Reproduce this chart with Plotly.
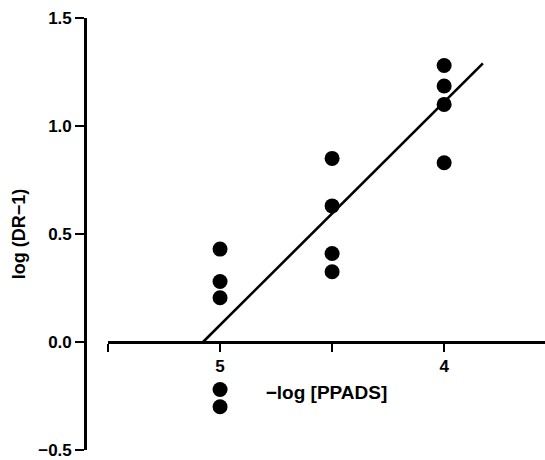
import plotly.graph_objects as go

# Data
conc = [5, 5, 5, 5, 5, 4.5, 4.5, 4.5, 4.5, 4, 4, 4, 4]
log_dr = [0.43, 0.28, 0.205, -0.22, -0.30, 0.85, 0.63, 0.41, 0.325, 1.28, 1.185, 1.10, 0.83]
fit_x = [5.076, 3.827]
fit_y = [0.0, 1.29]
x_tickvals = [5.5, 5, 4.5, 4]
x_ticktext = ["", "5", "", "4"]
y_tickvals = [-0.5, 0.0, 0.5, 1.0, 1.5]
y_ticktext = ["\u22120.5", "0.0", "0.5", "1.0", "1.5"]

W, H = 545, 460
font = dict(family="Liberation Sans, Arial, sans-serif", color="black")

fig = go.Figure()
fig.add_trace(go.Scatter(x=fit_x, y=fit_y, mode="lines",
                         line=dict(color="black", width=2.6), showlegend=False))
fig.add_trace(go.Scatter(x=conc, y=log_dr, mode="markers",
                         marker=dict(color="black", size=15, line=dict(width=0)),
                         showlegend=False, cliponaxis=False))

fig.update_layout(
    width=W, height=H,
    margin=dict(l=0, r=0, t=18, b=10),
    paper_bgcolor="white", plot_bgcolor="white",
    font=dict(size=17, weight="bold", **font),
    xaxis=dict(
        domain=[108 / W, 1], range=[5.5, 3.55],
        anchor="free", position=0.25, automargin=False,
        showline=True, linecolor="black", linewidth=2.6,
        ticks="outside", ticklen=8, tickwidth=2, tickcolor="black",
        tickvals=x_tickvals, ticktext=x_ticktext,
        showgrid=False, zeroline=False,
        tickfont=dict(size=17, weight="bold", **font),
        title=dict(text="\u2212log [PPADS]", standoff=10,
                   font=dict(size=19, weight="bold", **font)),
    ),
    yaxis=dict(
        range=[-0.5, 1.5], anchor="free", position=85 / W, automargin=False,
        showline=True, linecolor="black", linewidth=2.6,
        ticks="outside", ticklen=9, tickwidth=2, tickcolor="black",
        tickvals=y_tickvals, ticktext=y_ticktext,
        ticklabeloverflow="allow",
        showgrid=False, zeroline=False,
        tickfont=dict(size=17, weight="bold", **font),
        title=dict(text="log (DR\u22121)", standoff=6,
                   font=dict(size=18, weight="bold", **font)),
    ),
)

fig.write_html("out.html")
